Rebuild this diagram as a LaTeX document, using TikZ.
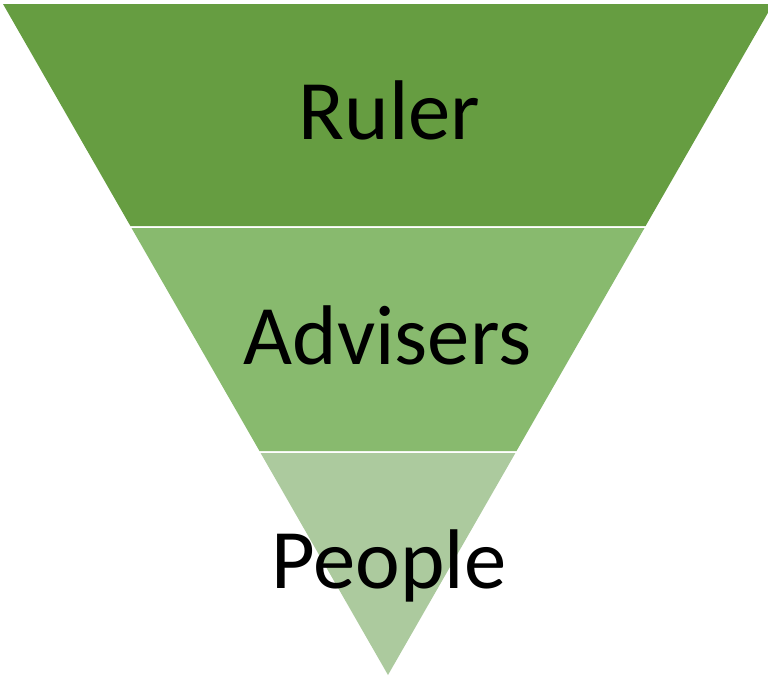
\documentclass[tikz,border=0pt]{standalone}
\usepackage{fontspec}
\setmainfont{Carlito}
\definecolor{bandA}{RGB}{102,157,65}
\definecolor{bandB}{RGB}{136,186,110}
\definecolor{bandC}{RGB}{172,202,158}
\begin{document}
\begin{tikzpicture}[x=0.75pt,y=-0.75pt,
  lbl/.style={anchor=base,inner sep=0pt,font=\fontsize{63.5}{72}\selectfont,text=black}]
\useasboundingbox (0,0) rectangle (768,678);
\clip (0,0) rectangle (768,678);
\fill[bandA] (3,4) -- (773,4) -- (645.6,226) -- (130.4,226) -- cycle;
\fill[bandB] (131.5,228) -- (644.5,228) -- (516.5,451) -- (259.5,451) -- cycle;
\fill[bandC] (260.6,453) -- (515.4,453) -- (388,675) -- cycle;
\node[lbl] (ruler) at (389.5,139) {Ruler};
\node[lbl] (advisers) at (387.5,364) {Advisers};
\node[lbl] (people) at (389,588) {People};
\end{tikzpicture}
\end{document}
